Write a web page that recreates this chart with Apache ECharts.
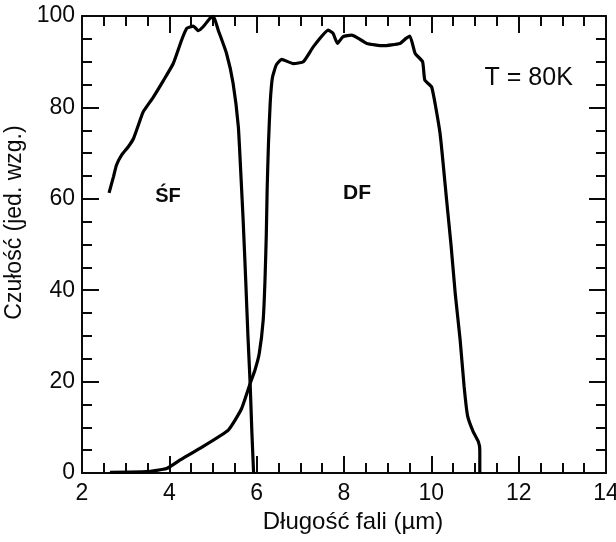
<!DOCTYPE html>
<html>
<head>
<meta charset="utf-8">
<script src="https://cdn.jsdelivr.net/npm/echarts@6/dist/echarts.min.js"></script>
<style>
  html, body { margin: 0; padding: 0; background: #fff; }
  #chart { width: 616px; height: 542px; }
</style>
</head>
<body>
<div id="chart"></div>
<script>
// krzywa ŚF (średnia podczerwień)
const sfX = [2.62, 2.72, 2.79, 2.91, 3.06, 3.18, 3.33, 3.40, 3.63, 3.86, 4.09, 4.28, 4.40, 4.55, 4.66, 4.78, 4.93, 5.01, 5.12, 5.31, 5.46, 5.58, 5.64, 5.69, 5.75, 5.80, 5.85, 5.89, 5.93];
const sfY = [61.3, 64.8, 67.4, 69.6, 71.4, 73.2, 77.2, 79.0, 82.2, 85.8, 89.6, 94.7, 97.3, 97.8, 96.8, 97.7, 99.5, 99.9, 96.9, 91.8, 85.3, 75.8, 65, 55.4, 42, 30, 19.7, 9, 0];

// krzywa DF (daleka podczerwień)
const dfX = [2.64, 3.48, 3.94, 4.24, 4.70, 5.35, 5.65, 5.85, 5.96, 6.06, 6.15, 6.19, 6.22, 6.24, 6.27, 6.31, 6.36, 6.45, 6.57, 6.84, 7.07, 7.30, 7.64, 7.75, 7.85, 7.98, 8.18, 8.33, 8.52, 8.90, 9.28, 9.42, 9.51, 9.63, 9.80, 9.85, 10.01, 10.20, 10.35, 10.45, 10.55, 10.66, 10.75, 10.83, 10.96, 11.08, 11.11, 11.11];
const dfY = [0.15, 0.3, 1.0, 2.8, 5.4, 9.4, 14, 19.6, 22.5, 26.2, 33.5, 42, 52, 62, 72, 81, 86.5, 89.3, 90.5, 89.6, 90, 93.3, 96.9, 96.2, 94, 95.5, 95.8, 95.1, 94, 93.5, 94, 95.1, 95.6, 91.8, 90, 86, 84.4, 74.3, 59.7, 50, 39, 29.1, 19, 12.5, 9.0, 6.8, 5, 0];

// opisy na wykresie
const noteText = ['ŚF', 'DF', 'T = 80K'];
const noteX = [3.97, 8.3, 12.23];
const noteY = [60.4, 61.3, 86.4];

const xTicks = [2, 4, 6, 8, 10, 12, 14];
const yTicks = [0, 20, 40, 60, 80, 100];

const font = '"Liberation Sans", Arial, sans-serif';
const ink = '#0a0a0a';
const noteSizes = [20, 21, 25];
const noteWeights = ['bold', 'bold', 'normal'];

const chart = echarts.init(document.getElementById('chart'));

const zip = (xs, ys) => xs.map((x, i) => [x, ys[i]]);

const baseX = {
  type: 'value',
  min: xTicks[0],
  max: xTicks[xTicks.length - 1],
  interval: 2,
  splitLine: { show: false },
  axisLine: { show: true, onZero: false, lineStyle: { color: ink, width: 2 } },
  axisTick: { show: true, inside: true, length: 17, lineStyle: { color: ink, width: 2 } },
  minorTick: { show: true, splitNumber: 4, length: 10, lineStyle: { color: ink, width: 2 } }
};
const baseY = {
  type: 'value',
  min: yTicks[0],
  max: yTicks[yTicks.length - 1],
  interval: 20,
  splitLine: { show: false },
  axisLine: { show: true, onZero: false, lineStyle: { color: ink, width: 2 } },
  axisTick: { show: true, inside: true, length: 17, lineStyle: { color: ink, width: 2 } },
  minorTick: { show: true, splitNumber: 4, length: 10, lineStyle: { color: ink, width: 2 } }
};

const option = {
  animation: false,
  backgroundColor: '#fff',
  textStyle: { fontFamily: font },
  grid: { left: 82, right: 10, top: 16, bottom: 69, containLabel: false, outerBoundsMode: 'none' },
  xAxis: [
    Object.assign({}, baseX, {
      position: 'bottom',
      name: 'Długość fali (µm)',
      nameLocation: 'middle',
      nameGap: 36,
      nameTextStyle: { fontSize: 24, color: ink, fontFamily: font, padding: [0, 0, 0, 18] },
      axisLabel: { fontSize: 23, color: ink, fontFamily: font, margin: 9 }
    }),
    Object.assign({}, baseX, { position: 'top', axisLabel: { show: false } })
  ],
  yAxis: [
    Object.assign({}, baseY, {
      position: 'left',
      name: 'Czułość (jed. wzg.)',
      nameLocation: 'middle',
      nameGap: 48,
      nameTextStyle: { fontSize: 23, color: ink, fontFamily: font, padding: [0, 0, 0, 44] },
      axisLabel: { fontSize: 23, color: ink, fontFamily: font, margin: 7 }
    }),
    Object.assign({}, baseY, { position: 'right', axisLabel: { show: false } })
  ],
  series: [
    {
      name: 'ŚF',
      type: 'line',
      data: zip(sfX, sfY),
      smooth: 0.15,
      showSymbol: false,
      lineStyle: { color: '#000', width: 3.2 }
    },
    {
      name: 'DF',
      type: 'line',
      data: zip(dfX, dfY),
      smooth: 0.15,
      showSymbol: false,
      lineStyle: { color: '#000', width: 3.2 }
    },
    {
      type: 'scatter',
      symbolSize: 0,
      itemStyle: { opacity: 1 },
      data: noteText.map((t, i) => ({
        value: [noteX[i], noteY[i]],
        name: t,
        label: { fontSize: noteSizes[i], fontWeight: noteWeights[i] }
      })),
      label: {
        show: true,
        position: 'inside',
        formatter: p => p.name,
        color: ink,
        opacity: 1,
        fontFamily: font
      }
    }
  ]
};

chart.setOption(option);
</script>
</body>
</html>
